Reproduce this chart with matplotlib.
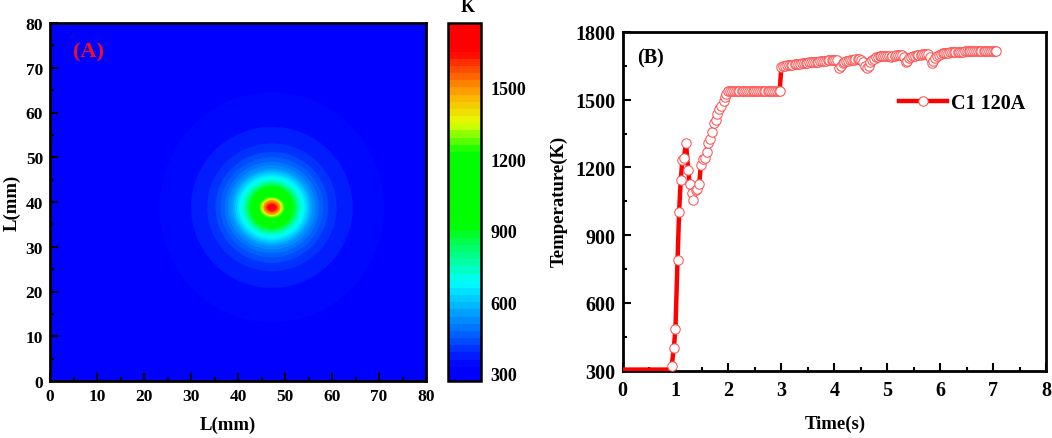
import numpy as np
import matplotlib
matplotlib.use('Agg')
import matplotlib.pyplot as plt
from matplotlib.colors import LinearSegmentedColormap, BoundaryNorm
from matplotlib.cm import ScalarMappable
from matplotlib.patches import Ellipse

plt.rcParams['font.family'] = ['Liberation Serif', 'DejaVu Serif']
plt.rcParams['font.weight'] = 'bold'

# panel A, contour bands: temperature, half widths in mm
band_temp = [330, 360, 390, 420, 450, 480, 510, 540, 570, 600, 630, 660, 690, 720,
             780, 840, 900, 960, 1260, 1300, 1370, 1450, 1500, 1600, 1700, 1760]
band_rx = [23.9, 17.2, 13.8, 12.0, 10.9, 10.0, 9.3, 8.7, 8.2, 7.8, 7.4, 7.0, 6.6, 6.2,
           5.7, 5.2, 4.7, 4.3, 2.6, 2.4, 2.2, 1.9, 1.7, 1.3, 0.9, 0.5]
band_ry = [25.7, 18.0, 14.3, 12.4, 11.2, 10.2, 9.4, 8.7, 8.2, 7.8, 7.4, 7.0, 6.6, 6.2,
           5.7, 5.2, 4.8, 4.4, 2.3, 2.1, 1.95, 1.7, 1.5, 1.05, 0.7, 0.4]
spot_x = 47.2
spot_y = 38.8
cbar_ticks = [300, 600, 900, 1200, 1500]
tmin = 270
tmax = 1790

# panel B
time_s = [0.00, 0.04, 0.07, 0.11, 0.14, 0.18, 0.21, 0.25, 0.28, 0.32, 0.35, 0.39, 0.42, 0.46,
          0.49, 0.53, 0.56, 0.60, 0.63, 0.67, 0.70, 0.74, 0.77, 0.81, 0.84, 0.88, 0.91,
          0.93, 0.97, 1.00, 1.04, 1.07, 1.10, 1.13, 1.16, 1.20, 1.24, 1.27, 1.31, 1.34, 1.38,
          1.41, 1.45, 1.48, 1.52, 1.56, 1.59, 1.62, 1.66, 1.70, 1.73, 1.76, 1.79, 1.83, 1.87,
          1.91, 1.94, 1.96,
          2.00, 2.04, 2.07, 2.11, 2.14, 2.18, 2.21, 2.25, 2.28, 2.32, 2.35, 2.39, 2.42, 2.46,
          2.49, 2.53, 2.56, 2.60, 2.63, 2.67, 2.70, 2.74, 2.77, 2.81, 2.84, 2.88, 2.91, 2.95, 2.97,
          3.00, 3.04, 3.07, 3.11, 3.14, 3.18, 3.21, 3.25, 3.28, 3.32, 3.35, 3.39, 3.42, 3.46,
          3.49, 3.53, 3.56, 3.60, 3.63, 3.67, 3.70, 3.74, 3.77, 3.81, 3.84, 3.88, 3.91, 3.95,
          3.98, 4.02, 4.05, 4.09, 4.12, 4.16, 4.19, 4.23, 4.26, 4.30, 4.33, 4.37, 4.40, 4.44,
          4.47, 4.51, 4.54, 4.58, 4.61, 4.65, 4.68, 4.72, 4.75, 4.79, 4.82, 4.86, 4.89, 4.93,
          4.96, 5.00, 5.03, 5.07, 5.10, 5.14, 5.17, 5.21, 5.24, 5.28, 5.31, 5.35, 5.38, 5.42,
          5.45, 5.49, 5.52, 5.56, 5.59, 5.63, 5.66, 5.70, 5.73, 5.77, 5.80, 5.84, 5.87, 5.91,
          5.94, 5.98, 6.01, 6.05, 6.08, 6.12, 6.15, 6.19, 6.22, 6.26, 6.29, 6.33, 6.36, 6.40,
          6.43, 6.47, 6.50, 6.54, 6.57, 6.61, 6.64, 6.68, 6.71, 6.75, 6.78, 6.82, 6.85, 6.89,
          6.92, 6.96, 6.99, 7.03, 7.05]
temp_k = [305, 305, 305, 305, 305, 305, 305, 305, 305, 305, 305, 305, 305, 305,
          305, 305, 305, 305, 305, 305, 305, 305, 305, 305, 305, 305, 308,
          322, 401, 484, 792, 1005, 1143, 1231, 1242, 1307, 1190, 1127, 1088, 1058, 1100,
          1106, 1127, 1209, 1238, 1242, 1268, 1307, 1325, 1359, 1398, 1410, 1435, 1461, 1472,
          1495, 1513, 1527,
          1539, 1539, 1539, 1539, 1539, 1539, 1539, 1539, 1539, 1539, 1539, 1539, 1539, 1539,
          1539, 1539, 1539, 1539, 1539, 1539, 1539, 1539, 1539, 1539, 1539, 1539, 1539, 1539, 1539,
          1645, 1648, 1650, 1652, 1654, 1655, 1656, 1657, 1658, 1659, 1660, 1661, 1662, 1663,
          1664, 1665, 1665, 1666, 1667, 1668, 1669, 1670, 1671, 1672, 1673, 1674, 1675, 1676,
          1677, 1678, 1675, 1640, 1650, 1661, 1665, 1670, 1672, 1675, 1677, 1678, 1680, 1680,
          1680, 1675, 1665, 1650, 1642, 1650, 1665, 1675, 1682, 1688, 1690, 1692, 1693, 1694,
          1695, 1695, 1692, 1690, 1693, 1695, 1696, 1697, 1698, 1698, 1690, 1668, 1672, 1685,
          1690, 1693, 1695, 1697, 1699, 1700, 1701, 1702, 1703, 1704, 1690, 1662, 1672, 1685,
          1693, 1698, 1703, 1706, 1707, 1708, 1709, 1710, 1710, 1711, 1711, 1712, 1712, 1713,
          1713, 1714, 1714, 1715, 1715, 1715, 1716, 1716, 1716, 1716, 1716, 1716, 1716, 1716,
          1716, 1716, 1716, 1716, 1716]
first_marker = 27  # no circles drawn on the flat start

W, H = 1052, 439
fig = plt.figure(figsize=(W / 100, H / 100), dpi=100)

def px_axes(x0, y0, x1, y1):
    return fig.add_axes([x0 / W, 1 - y1 / H, (x1 - x0) / W, (y1 - y0) / H])

def style(ax, lw=2.0):
    for sp in ax.spines.values():
        sp.set_linewidth(lw)

cmap = LinearSegmentedColormap.from_list('temp', [
    ((270 - tmin) / (tmax - tmin), (0, 0, 1)),
    ((320 - tmin) / (tmax - tmin), (0, 0, 1)),
    ((680 - tmin) / (tmax - tmin), (0, 1, 1)),
    ((930 - tmin) / (tmax - tmin), (0, 1, 0)),
    ((1240 - tmin) / (tmax - tmin), (0, 1, 0)),
    ((1370 - tmin) / (tmax - tmin), (0.9, 1, 0)),
    ((1500 - tmin) / (tmax - tmin), (1, 0.65, 0)),
    ((1680 - tmin) / (tmax - tmin), (1, 0, 0)),
    (1.0, (1, 0, 0)),
])
bounds = np.arange(tmin, tmax + 1, 30)
norm = BoundaryNorm(bounds, cmap.N)

# panel A
ax = px_axes(50, 24, 426, 382)
ax.set_xlim(0, 80)
ax.set_ylim(0, 80)
ax.set_facecolor(cmap(norm(300)))
for t, rx, ry in zip(band_temp, band_rx, band_ry):
    ax.add_patch(Ellipse((spot_x, spot_y), 2 * rx, 2 * ry, fc=cmap(norm(t)), ec='none'))
ax.set_xticks(range(0, 81, 10))
ax.set_yticks(range(0, 81, 10))
ax.set_xticks(range(5, 80, 10), minor=True)
ax.set_yticks(range(5, 80, 10), minor=True)
ax.tick_params(which='major', direction='in', width=1.5, length=6, labelsize=12.5, pad=5)
ax.tick_params(which='minor', direction='in', width=1.5, length=3)
style(ax)
ax.text(5, 72.5, '(A)', color='#f01020', fontsize=16, fontweight='bold')
fig.text(228 / W, 1 - 425 / H, 'L(mm)', ha='center', va='center', fontsize=13.5)
fig.text(12 / W, 1 - 203 / H, 'L(mm)', ha='center', va='center', rotation=90, fontsize=13.5)

# colour bar
cax = px_axes(448, 24, 481, 382)
cb = fig.colorbar(ScalarMappable(norm=norm, cmap=cmap), cax=cax, spacing='proportional',
                  ticks=cbar_ticks, drawedges=False)
cb.ax.tick_params(length=0, labelsize=13, pad=7)
cb.ax.minorticks_off()
cb.outline.set_linewidth(1.8)
fig.text(468 / W, 1 - 8 / H, 'K', ha='center', va='center', fontsize=13)

# panel B
bx = px_axes(622.5, 33, 1046, 371.7)
bx.plot(time_s, temp_k, color='#ff0000', lw=3.2, marker='o', ms=6.8, mfc='white', mec='#ff4848',
        mew=0.7, markevery=list(range(first_marker, len(time_s))), label='C1 120A', zorder=3)
bx.set_xlim(0, 8)
bx.set_ylim(300, 1800)
bx.set_xticks(range(0, 9))
bx.set_yticks(range(300, 1801, 300))
bx.set_xticks(np.arange(0.5, 8, 1), minor=True)
bx.set_yticks(range(450, 1800, 300), minor=True)
bx.tick_params(which='major', direction='in', width=1.5, length=6, labelsize=14.5, pad=5)
bx.tick_params(which='minor', direction='in', width=1.5, length=3)
bx.tick_params(axis='x', which='major', pad=7)
style(bx)
bx.text(0.28, 1665, '(B)', color='black', fontsize=14.5, fontweight='bold')
bx.legend(loc='center left', bbox_to_anchor=(0.652, 0.79), frameon=False, fontsize=14.5,
          handlelength=2.4, handletextpad=0.2, borderpad=0, borderaxespad=0,
          markerfirst=True)
fig.text(835 / W, 1 - 424 / H, 'Time(s)', ha='center', va='center', fontsize=13.5)
fig.text(559 / W, 1 - 201 / H, 'Temperature(K)', ha='center', va='center', rotation=90, fontsize=13.5)

fig.savefig('out.png', dpi=100)
